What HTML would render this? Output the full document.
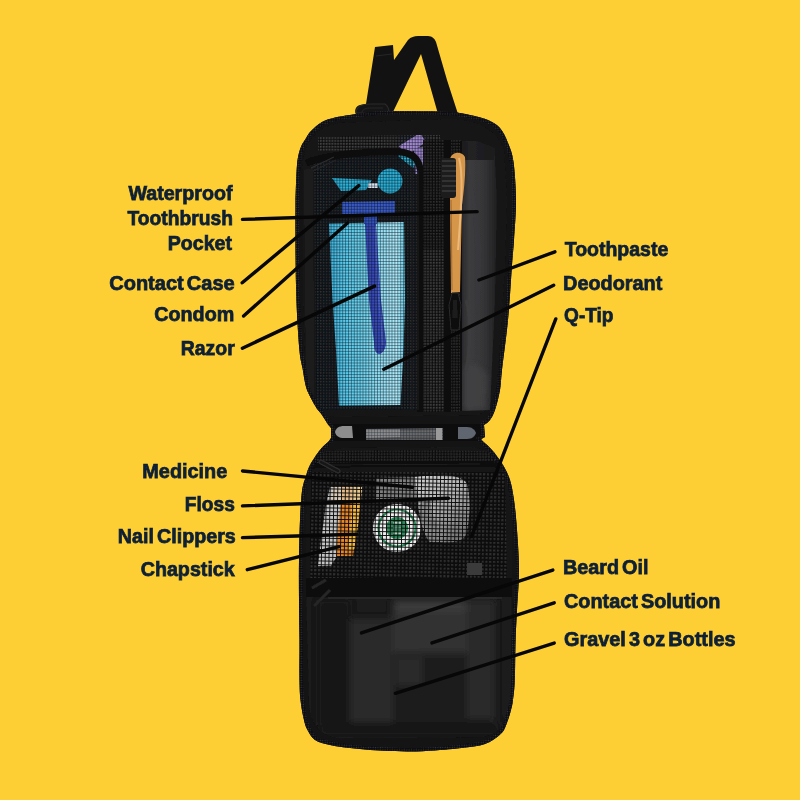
<!DOCTYPE html>
<html><head><meta charset="utf-8">
<style>
html,body{margin:0;padding:0;width:800px;height:800px;overflow:hidden;background:#FDCF35;}
svg{display:block;}
.t{font-family:"Liberation Sans",sans-serif;font-weight:bold;font-size:20.5px;fill:#112034;stroke:#112034;stroke-width:0.75px;word-spacing:-2.5px;}
</style></head><body>
<svg width="800" height="800" viewBox="0 0 800 800">
<defs><filter id="soft0" x="-2%" y="-20%" width="104%" height="140%"><feGaussianBlur stdDeviation="0.25"/></filter></defs>
<rect width="800" height="800" fill="#FDCF35"/>
<!-- handle -->
<path d="M366,104 L375,47 L393,45 L394,60 L408,40 C411,37 414,36 418,36 L428,36 C432,36 435,39 436,42 L447,80 L458,114 L438,114 L421,54 L392,114 L356,114 C354,110 356,106 360,105 Z" fill="#121212"/>
<path d="M356,113 C356,107 362,104 371,104 L385,104 C388,106 389,110 389,113 Z" fill="#151515" stroke="#2a2a2a" stroke-width="1.2"/>
<path d="M362,112 C363,109 366,108 371,108 L383,108" fill="none" stroke="#262626" stroke-width="1"/>
<path d="M376,56 L392,54" stroke="#262626" stroke-width="1"/>
<!-- silhouette -->
<path d="M295.5,200.0 C295.8,194.2 296.2,173.7 297.0,165.0 C297.8,156.3 299.1,152.3 300.5,148.0 C301.9,143.7 303.8,141.8 305.5,139.0 C307.2,136.2 308.2,133.8 311.0,131.0 C313.8,128.2 318.0,124.2 322.0,122.0 C326.0,119.8 330.3,118.7 335.0,117.5 C339.7,116.3 344.2,115.9 350.0,115.0 C355.8,114.1 361.7,112.7 370.0,112.0 C378.3,111.3 386.7,111.0 400.0,111.0 C413.3,111.0 438.3,111.3 450.0,112.0 C461.7,112.7 463.7,113.7 470.0,115.0 C476.3,116.3 483.0,117.8 488.0,120.0 C493.0,122.2 496.7,124.2 500.0,128.0 C503.3,131.8 505.8,137.3 508.0,143.0 C510.2,148.7 512.2,152.5 513.5,162.0 C514.8,171.5 515.9,187.0 516.0,200.0 C516.1,213.0 514.7,229.2 514.0,240.0 C513.3,250.8 513.0,251.7 512.0,265.0 C511.0,278.3 509.7,302.5 508.0,320.0 C506.3,337.5 503.3,358.3 502.0,370.0 C500.7,381.7 501.2,383.3 500.0,390.0 C498.8,396.7 496.7,405.0 495.0,410.0 C493.3,415.0 491.8,417.5 490.0,420.0 C488.2,422.5 485.0,424.2 484.0,425.0 L485,437 L481,439 L482.0,440.5 C483.7,442.1 488.5,445.9 492.0,450.0 C495.5,454.1 500.0,460.0 503.0,465.0 C506.0,470.0 508.2,474.2 510.0,480.0 C511.8,485.8 512.8,491.7 514.0,500.0 C515.2,508.3 516.2,518.3 517.0,530.0 C517.8,541.7 519.0,556.7 519.0,570.0 C519.0,583.3 517.6,598.3 517.0,610.0 C516.4,621.7 516.0,628.3 515.6,640.0 C515.2,651.7 515.2,670.0 514.8,680.0 C514.4,690.0 513.6,695.0 513.0,700.0 C512.4,705.0 511.8,706.7 511.0,710.0 C510.2,713.3 509.2,716.7 508.0,720.0 C506.8,723.3 505.4,727.5 504.0,730.0 C502.6,732.5 501.4,733.3 499.6,735.0 C497.8,736.7 495.4,738.5 493.0,740.0 C490.6,741.5 488.2,742.9 485.0,744.0 C481.8,745.1 478.4,745.8 473.7,746.5 C469.0,747.2 462.6,747.9 457.0,748.5 C451.4,749.1 446.8,749.5 440.0,750.0 C433.2,750.5 424.8,751.3 416.5,751.5 C408.2,751.7 397.8,751.2 390.0,751.0 C382.2,750.8 376.7,750.5 370.0,750.0 C363.3,749.5 356.7,748.8 350.0,748.0 C343.3,747.2 335.8,746.3 330.0,745.0 C324.2,743.7 318.8,742.5 315.0,740.0 C311.2,737.5 309.3,733.3 307.5,730.0 C305.7,726.7 305.2,725.0 304.0,720.0 C302.8,715.0 301.2,706.7 300.5,700.0 C299.8,693.3 299.7,690.0 299.5,680.0 C299.3,670.0 299.6,653.3 299.5,640.0 C299.4,626.7 299.1,613.3 299.0,600.0 C298.9,586.7 298.8,573.3 299.0,560.0 C299.2,546.7 299.5,531.5 300.0,520.0 C300.5,508.5 301.0,498.3 302.0,491.0 C303.0,483.7 304.7,480.3 306.0,476.0 C307.3,471.7 307.7,469.3 310.0,465.0 C312.3,460.7 316.8,454.0 320.0,450.0 C323.2,446.0 327.5,442.5 329.0,441.0 L331,438 L331,428 L328.0,424.5 C327.0,422.9 323.9,417.8 322.0,415.0 C320.1,412.2 318.2,410.5 316.5,408.0 C314.8,405.5 313.6,403.0 312.0,400.0 C310.4,397.0 308.2,393.3 307.0,390.0 C305.8,386.7 305.2,383.7 304.5,380.0 C303.8,376.3 303.4,373.0 302.5,368.0 C301.6,363.0 300.4,361.3 299.4,350.0 C298.4,338.7 297.0,316.7 296.4,300.0 C295.8,283.3 295.6,266.7 295.5,250.0 C295.4,233.3 295.5,208.3 295.5,200.0Z" fill="#141414"/>
<clipPath id="bagclip"><path d="M295.5,200.0 C295.8,194.2 296.2,173.7 297.0,165.0 C297.8,156.3 299.1,152.3 300.5,148.0 C301.9,143.7 303.8,141.8 305.5,139.0 C307.2,136.2 308.2,133.8 311.0,131.0 C313.8,128.2 318.0,124.2 322.0,122.0 C326.0,119.8 330.3,118.7 335.0,117.5 C339.7,116.3 344.2,115.9 350.0,115.0 C355.8,114.1 361.7,112.7 370.0,112.0 C378.3,111.3 386.7,111.0 400.0,111.0 C413.3,111.0 438.3,111.3 450.0,112.0 C461.7,112.7 463.7,113.7 470.0,115.0 C476.3,116.3 483.0,117.8 488.0,120.0 C493.0,122.2 496.7,124.2 500.0,128.0 C503.3,131.8 505.8,137.3 508.0,143.0 C510.2,148.7 512.2,152.5 513.5,162.0 C514.8,171.5 515.9,187.0 516.0,200.0 C516.1,213.0 514.7,229.2 514.0,240.0 C513.3,250.8 513.0,251.7 512.0,265.0 C511.0,278.3 509.7,302.5 508.0,320.0 C506.3,337.5 503.3,358.3 502.0,370.0 C500.7,381.7 501.2,383.3 500.0,390.0 C498.8,396.7 496.7,405.0 495.0,410.0 C493.3,415.0 491.8,417.5 490.0,420.0 C488.2,422.5 485.0,424.2 484.0,425.0 L485,437 L481,439 L482.0,440.5 C483.7,442.1 488.5,445.9 492.0,450.0 C495.5,454.1 500.0,460.0 503.0,465.0 C506.0,470.0 508.2,474.2 510.0,480.0 C511.8,485.8 512.8,491.7 514.0,500.0 C515.2,508.3 516.2,518.3 517.0,530.0 C517.8,541.7 519.0,556.7 519.0,570.0 C519.0,583.3 517.6,598.3 517.0,610.0 C516.4,621.7 516.0,628.3 515.6,640.0 C515.2,651.7 515.2,670.0 514.8,680.0 C514.4,690.0 513.6,695.0 513.0,700.0 C512.4,705.0 511.8,706.7 511.0,710.0 C510.2,713.3 509.2,716.7 508.0,720.0 C506.8,723.3 505.4,727.5 504.0,730.0 C502.6,732.5 501.4,733.3 499.6,735.0 C497.8,736.7 495.4,738.5 493.0,740.0 C490.6,741.5 488.2,742.9 485.0,744.0 C481.8,745.1 478.4,745.8 473.7,746.5 C469.0,747.2 462.6,747.9 457.0,748.5 C451.4,749.1 446.8,749.5 440.0,750.0 C433.2,750.5 424.8,751.3 416.5,751.5 C408.2,751.7 397.8,751.2 390.0,751.0 C382.2,750.8 376.7,750.5 370.0,750.0 C363.3,749.5 356.7,748.8 350.0,748.0 C343.3,747.2 335.8,746.3 330.0,745.0 C324.2,743.7 318.8,742.5 315.0,740.0 C311.2,737.5 309.3,733.3 307.5,730.0 C305.7,726.7 305.2,725.0 304.0,720.0 C302.8,715.0 301.2,706.7 300.5,700.0 C299.8,693.3 299.7,690.0 299.5,680.0 C299.3,670.0 299.6,653.3 299.5,640.0 C299.4,626.7 299.1,613.3 299.0,600.0 C298.9,586.7 298.8,573.3 299.0,560.0 C299.2,546.7 299.5,531.5 300.0,520.0 C300.5,508.5 301.0,498.3 302.0,491.0 C303.0,483.7 304.7,480.3 306.0,476.0 C307.3,471.7 307.7,469.3 310.0,465.0 C312.3,460.7 316.8,454.0 320.0,450.0 C323.2,446.0 327.5,442.5 329.0,441.0 L331,438 L331,428 L328.0,424.5 C327.0,422.9 323.9,417.8 322.0,415.0 C320.1,412.2 318.2,410.5 316.5,408.0 C314.8,405.5 313.6,403.0 312.0,400.0 C310.4,397.0 308.2,393.3 307.0,390.0 C305.8,386.7 305.2,383.7 304.5,380.0 C303.8,376.3 303.4,373.0 302.5,368.0 C301.6,363.0 300.4,361.3 299.4,350.0 C298.4,338.7 297.0,316.7 296.4,300.0 C295.8,283.3 295.6,266.7 295.5,250.0 C295.4,233.3 295.5,208.3 295.5,200.0Z"/></clipPath>
<g clip-path="url(#bagclip)">
<defs>
  <pattern id="grid" width="2.9" height="2.9" patternUnits="userSpaceOnUse">
    <path d="M0 0.3H2.9M0.3 0V2.9" stroke="#081424" stroke-width="0.62" stroke-opacity="0.88" fill="none"/>
  </pattern>
  <pattern id="gridk" width="2.9" height="2.9" patternUnits="userSpaceOnUse">
    <rect width="2.9" height="2.9" fill="#0b0b0b"/>
    <rect x="0.85" y="0.85" width="1.7" height="1.7" fill="#323232"/>
  </pattern>
  <pattern id="gridl" width="2.9" height="2.9" patternUnits="userSpaceOnUse">
    <rect width="2.9" height="2.9" fill="#0c0c0c"/>
    <rect x="0.8" y="0.8" width="1.8" height="1.8" fill="#464646"/>
  </pattern>
  <pattern id="grid4" width="3.8" height="3.8" patternUnits="userSpaceOnUse" patternTransform="rotate(1)">
    <path d="M0 0.45H3.8M0.45 0V3.8" stroke="#0a0a0a" stroke-width="0.95" fill="none"/>
  </pattern>
  <pattern id="gridk4" width="3.8" height="3.8" patternUnits="userSpaceOnUse" patternTransform="rotate(1)">
    <rect width="3.8" height="3.8" fill="#0c0c0c"/>
    <rect x="1" y="1" width="2.3" height="2.3" fill="#303030"/>
  </pattern>
  <pattern id="zip" width="2.4" height="2.4" patternUnits="userSpaceOnUse">
    <rect width="2.4" height="2.4" fill="#0c0c0e"/>
    <rect x="0.6" y="0.6" width="1.1" height="1.1" fill="#363a48"/>
  </pattern>
  <linearGradient id="pk" x1="0" y1="0" x2="1" y2="0">
    <stop offset="0" stop-color="#262628"/>
    <stop offset="0.25" stop-color="#3c3c3e"/>
    <stop offset="0.6" stop-color="#363638"/>
    <stop offset="0.85" stop-color="#29292b"/>
    <stop offset="1" stop-color="#1e1e1f"/>
  </linearGradient>
  <linearGradient id="teal" x1="0" y1="0" x2="1" y2="0">
    <stop offset="0" stop-color="#40b4da"/>
    <stop offset="0.2" stop-color="#56c8e8"/>
    <stop offset="0.45" stop-color="#70d4ec"/>
    <stop offset="0.7" stop-color="#98e2f4"/>
    <stop offset="0.9" stop-color="#b0ecf8"/>
    <stop offset="1" stop-color="#64cce6"/>
  </linearGradient>
  <linearGradient id="med" x1="0" y1="0" x2="0.6" y2="1">
    <stop offset="0" stop-color="#d0d0d0"/>
    <stop offset="0.5" stop-color="#b4b4b4"/>
    <stop offset="1" stop-color="#7a7a7a"/>
  </linearGradient>
  <filter id="soft" x="-5%" y="-5%" width="110%" height="110%">
    <feGaussianBlur stdDeviation="0.45"/>
  </filter>
  <filter id="blur3" x="-20%" y="-20%" width="140%" height="140%">
    <feGaussianBlur stdDeviation="2.5"/>
  </filter>
  <filter id="blur4" x="-20%" y="-20%" width="140%" height="140%">
    <feGaussianBlur stdDeviation="3.5"/>
  </filter>
  <clipPath id="lpclip"><path d="M306,592 L512,592 L511,700 C509,722 500,733 482,737 L340,738 C320,736 311,725 309,705 Z"/></clipPath>
  <filter id="soft2" x="-5%" y="-5%" width="110%" height="110%">
    <feGaussianBlur stdDeviation="0.9"/>
  </filter>
</defs>

<g filter="url(#soft)">
<!-- ===== TOP PANEL ===== -->
<!-- lining -->
<path d="M303,165 C305,140 318,126 340,123 L450,119 C478,120 497,130 504,150 L507,200 L505,265 L498,372 C496,395 490,410 478,415 L335,417 C318,415 310,400 306,380 L303,300 Z" fill="#161616"/>
<!-- left fold -->
<path d="M304,170 L313,168 L314,405 C310,400 307,390 306,375 Z" fill="#1f1f1f"/>
<!-- top mesh strip -->
<path d="M318,137 C340,136 380,135 440,135 L441,150 L318,151 Z" fill="url(#gridl)"/>
<!-- pocket interior (mesh over dark lining) -->
<path d="M314,162 C330,156 370,154 402,155 C414,156 419,162 419,172 L419,410 L316,410 Z" fill="url(#gridk)"/>
<!-- teal towel -->
<path d="M329,223.5 L404,222 L405,300 L403.5,350 L400.5,405 L339,405.5 L336,350 L332.5,300 Z" fill="url(#teal)"/>
<!-- contact case -->
<path d="M332,178 L372,180 L366,190 L341,191 Z" fill="#2cb2d6"/>
<circle cx="390" cy="181" r="12.5" fill="#2ab0d4"/>
<rect x="368" y="183" width="10" height="5" fill="#d8e4ee"/>
<!-- razor -->
<path d="M342,202 L395,201 L395,213 L342,214 Z" fill="#3a5ac6"/>
<path d="M364,213 L377,213 L377,224 L364,224 Z" fill="#3452c0"/>
<path d="M365,224 L376,224 L381,300 L386,342 C386,350 382,354 379,354 C375,353 374,349 374,342 L369,300 Z" fill="#3848b8"/>
<path d="M375,226 L379,300 L383,345" stroke="#4c64d0" stroke-width="2" fill="none"/>
<!-- purple / cyan small items -->
<path d="M399,146 L420,133 L426,142 L406,156 Z" fill="#a488cc"/>
<path d="M414,148 L427,147 L427,174 L415,174 Z" fill="#9c80c8"/>
<path d="M398,156 L402,152 L416,163 L413,168 Z" fill="#30b4d0"/>
<!-- grid over colored items -->
<path d="M314,162 C330,156 370,154 402,155 C414,156 419,162 419,172 L419,410 L316,410 Z" fill="url(#grid)"/>
<rect x="398" y="131" width="30" height="43" fill="url(#grid)"/>
<!-- pocket binding -->
<path d="M306,163 C328,154 370,151 400,152 C415,153 420,161 421,174 L421,412" stroke="#0d0d0d" stroke-width="7" fill="none"/>
<!-- left zipper pull -->
<path d="M311,168 L334,157" stroke="#2e2e2e" stroke-width="1.2"/>
<path d="M313,171 L336,160" stroke="#262626" stroke-width="1.2"/>
<!-- divider / mesh column -->
<rect x="423" y="140" width="21" height="272" fill="url(#gridk)"/>
<rect x="423" y="250" width="21" height="160" fill="url(#gridl)" opacity="0.8"/>
<rect x="444" y="140" width="7" height="272" fill="#0c0c0c"/>
<rect x="451" y="140" width="10" height="272" fill="url(#gridk)"/>
<path d="M412,160 L412,410 M418,170 L418,410" stroke="#1e1e1e" stroke-width="1"/>
<!-- right pocket -->
<path d="M460,141 L494,142 L497,200 L495,300 L490,410 L460,411 Z" fill="url(#pk)"/>
<path d="M468,170 C478,200 484,240 480,300 L475,310 C477,250 474,200 466,172 Z" fill="#3a3a3d" opacity="0.5"/>
<path d="M461,141 L494,142 L494,160 L461,160 Z" fill="#161617" opacity="0.7"/>
<path d="M463,370 C470,360 480,365 488,375 L486,408 L463,408 Z" fill="#454547" opacity="0.6" filter="url(#blur3)"/>
<path d="M466,300 C472,320 470,350 466,370" stroke="#3e3e40" stroke-width="3" fill="none" opacity="0.7"/>
<path d="M461,141 L461,411" stroke="#0a0a0a" stroke-width="2"/>
<!-- toothbrush -->
<path d="M450,162 C449,152 461,150 465,157 C466,172 464,190 462,205 L460,292 L451,293 L450,205 Z" fill="#d6964a"/>
<path d="M459,158 C463,172 462,200 458,250" stroke="#ecb878" stroke-width="2" fill="none"/>
<path d="M451,200 L452,290" stroke="#a86e30" stroke-width="1.2" fill="none"/>
<rect x="441" y="158" width="15" height="40" rx="3" fill="#1c1c1c"/>
<path d="M442,161H456M442,166H456M442,171H456M442,176H456M442,181H456M442,186H456M442,191H456" stroke="#383838" stroke-width="1.3"/>
<!-- zipper pull -->
<path d="M452,293 L458,293 L461,305 L459,330 L451,330 L449,305 Z" fill="#0a0a0a" stroke="#2c2c2c" stroke-width="1"/>
<path d="M453,300 L457,300 L458,318 L452,318 Z" fill="#1a1a1a"/>
<!-- top band -->
<path d="M302,168 C304,142 318,127 340,123 L450,119 C478,120 497,130 504,150 L504,152 C480,140 460,136 440,135 C390,135 340,136 318,137 C310,142 306,155 304,170 Z" fill="#151515"/>

<!-- ===== HINGE ===== -->
<path d="M331,424 L484,424 L484,441 L331,441 Z" fill="#111"/>
<path d="M366,429 L443,428 L443,440 L366,440 Z" fill="#5e5e5e"/>
<path d="M366,429 L400,429 L400,437 L366,438 Z" fill="#8c8c8c"/>
<path d="M400,431 L440,430 L440,436 L400,437 Z" fill="#6a6a6a"/>
<rect x="366" y="428" width="78" height="12" fill="url(#grid)" opacity="0.7"/>
<path d="M436,428 L442,428 L442,440 L436,440 Z" fill="#9a9a9a"/>
<path d="M335,432 C336,428 339,426 344,426 L352,426 L353,438 L344,438 C339,438 336,436 335,432 Z" fill="#8e8e8e"/>
<path d="M458,427 L467,427 C472,427 475,430 476,433 C475,436 472,439 467,439 L458,439 Z" fill="#5e6670"/>
<!-- ===== BOTTOM PANEL ===== -->
<path d="M308,478 C314,460 328,450 345,448 L470,447 C490,449 502,460 507,478 L512,520 L512,600 L306,600 L306,520 Z" fill="#171717"/>
<!-- mesh pocket -->
<path d="M311,472 L505,472 L507,578 L310,578 Z" fill="url(#gridk4)"/>
<!-- items -->
<path d="M330,487 L344,487 L337,556 L331,566 L318,566 L321,540 L326,505 Z" fill="#c4c4c4"/>
<path d="M342,487 L362,487 L358,525 L353,556 L336,556 L339,520 Z" fill="#e8862a"/>
<path d="M352,487 L362,487 L358,525 L354,550 L348,550 L351,520 Z" fill="#f2b840"/>
<path d="M333,487 L362,487 L361,500 L331,500 Z" fill="#e4d0b0" opacity="0.7"/>
<path d="M376,478 L418,477 L418,500 L376,501 Z" fill="#7e7e7e"/>
<path d="M415,477 C440,474 462,474 467,484 C471,498 470,520 466,535 C462,542 452,543 440,542 L430,542 C424,536 420,520 418,500 Z" fill="url(#med)"/>
<path d="M418,505 C420,520 424,536 430,542 L445,542 C438,530 432,515 430,500 Z" fill="#8a8a8a"/>
<ellipse cx="397" cy="528" rx="24" ry="24" fill="#efefef"/>
<circle cx="397" cy="528" r="18.5" fill="none" stroke="#2a8a5a" stroke-width="2.2"/>
<circle cx="397" cy="528" r="11" fill="#2e8c5c"/>
<path d="M393,523 L401,523 M393,528 L401,528 M393,533 L401,533" stroke="#cfe8d8" stroke-width="1.5"/>
<path d="M311,472 L505,472 L507,578 L310,578 Z" fill="url(#grid4)"/>
<!-- pocket zipper -->
<path d="M318,452 C340,450 460,449 495,452 L497,463 L316,464 Z" fill="url(#gridk)"/>
<path d="M312,466 C360,464 450,463 500,465" stroke="#0a0a0a" stroke-width="5" fill="none"/>
<path d="M330,465 L480,464" stroke="#262626" stroke-width="0.8"/>
<path d="M321,462 L338,471" stroke="#2e2e2e" stroke-width="5" stroke-linecap="round"/>
<path d="M321,462 L338,471" stroke="#161616" stroke-width="2.5" stroke-linecap="round"/>
<rect x="467" y="563" width="15" height="12" fill="#3a3a3a"/>
<!-- lower pocket -->
<path d="M306,592 L512,592 L511,700 C509,722 500,733 482,737 L340,738 C320,736 311,725 309,705 Z" fill="#1a1a1a"/>
<g filter="url(#blur4)" clip-path="url(#lpclip)">
<rect x="318" y="600" width="32" height="125" fill="#121212"/>
<rect x="350" y="619" width="43" height="103" fill="#292929"/>
<rect x="393" y="600" width="74" height="53" fill="#303030"/>
<rect x="395" y="600" width="70" height="12" fill="#3a3a3a"/>
<rect x="393" y="653" width="74" height="69" fill="#1d1d1d"/>
<rect x="396" y="657" width="26" height="28" fill="#2c2c2c"/>
<rect x="467" y="600" width="28" height="120" fill="#292929"/>
<rect x="320" y="722" width="180" height="14" fill="#151515"/>
</g>
<path d="M306,578 L512,578 L512,597 L306,597 Z" fill="#101010"/>
<path d="M328,598 L502,598" stroke="#2e2e2e" stroke-width="1.5"/>
<path d="M312,588 L326,580 M314,606 L330,590" stroke="#262626" stroke-width="3"/>
</g>

<path d="M295.5,200.0 C295.8,194.2 296.2,173.7 297.0,165.0 C297.8,156.3 299.1,152.3 300.5,148.0 C301.9,143.7 303.8,141.8 305.5,139.0 C307.2,136.2 308.2,133.8 311.0,131.0 C313.8,128.2 318.0,124.2 322.0,122.0 C326.0,119.8 330.3,118.7 335.0,117.5 C339.7,116.3 344.2,115.9 350.0,115.0 C355.8,114.1 361.7,112.7 370.0,112.0 C378.3,111.3 386.7,111.0 400.0,111.0 C413.3,111.0 438.3,111.3 450.0,112.0 C461.7,112.7 463.7,113.7 470.0,115.0 C476.3,116.3 483.0,117.8 488.0,120.0 C493.0,122.2 496.7,124.2 500.0,128.0 C503.3,131.8 505.8,137.3 508.0,143.0 C510.2,148.7 512.2,152.5 513.5,162.0 C514.8,171.5 515.9,187.0 516.0,200.0 C516.1,213.0 514.7,229.2 514.0,240.0 C513.3,250.8 513.0,251.7 512.0,265.0 C511.0,278.3 509.7,302.5 508.0,320.0 C506.3,337.5 503.3,358.3 502.0,370.0 C500.7,381.7 501.2,383.3 500.0,390.0 C498.8,396.7 496.7,405.0 495.0,410.0 C493.3,415.0 491.8,417.5 490.0,420.0 C488.2,422.5 485.0,424.2 484.0,425.0 L485,437 L481,439 L482.0,440.5 C483.7,442.1 488.5,445.9 492.0,450.0 C495.5,454.1 500.0,460.0 503.0,465.0 C506.0,470.0 508.2,474.2 510.0,480.0 C511.8,485.8 512.8,491.7 514.0,500.0 C515.2,508.3 516.2,518.3 517.0,530.0 C517.8,541.7 519.0,556.7 519.0,570.0 C519.0,583.3 517.6,598.3 517.0,610.0 C516.4,621.7 516.0,628.3 515.6,640.0 C515.2,651.7 515.2,670.0 514.8,680.0 C514.4,690.0 513.6,695.0 513.0,700.0 C512.4,705.0 511.8,706.7 511.0,710.0 C510.2,713.3 509.2,716.7 508.0,720.0 C506.8,723.3 505.4,727.5 504.0,730.0 C502.6,732.5 501.4,733.3 499.6,735.0 C497.8,736.7 495.4,738.5 493.0,740.0 C490.6,741.5 488.2,742.9 485.0,744.0 C481.8,745.1 478.4,745.8 473.7,746.5 C469.0,747.2 462.6,747.9 457.0,748.5 C451.4,749.1 446.8,749.5 440.0,750.0 C433.2,750.5 424.8,751.3 416.5,751.5 C408.2,751.7 397.8,751.2 390.0,751.0 C382.2,750.8 376.7,750.5 370.0,750.0 C363.3,749.5 356.7,748.8 350.0,748.0 C343.3,747.2 335.8,746.3 330.0,745.0 C324.2,743.7 318.8,742.5 315.0,740.0 C311.2,737.5 309.3,733.3 307.5,730.0 C305.7,726.7 305.2,725.0 304.0,720.0 C302.8,715.0 301.2,706.7 300.5,700.0 C299.8,693.3 299.7,690.0 299.5,680.0 C299.3,670.0 299.6,653.3 299.5,640.0 C299.4,626.7 299.1,613.3 299.0,600.0 C298.9,586.7 298.8,573.3 299.0,560.0 C299.2,546.7 299.5,531.5 300.0,520.0 C300.5,508.5 301.0,498.3 302.0,491.0 C303.0,483.7 304.7,480.3 306.0,476.0 C307.3,471.7 307.7,469.3 310.0,465.0 C312.3,460.7 316.8,454.0 320.0,450.0 C323.2,446.0 327.5,442.5 329.0,441.0 L331,438 L331,428 L328.0,424.5 C327.0,422.9 323.9,417.8 322.0,415.0 C320.1,412.2 318.2,410.5 316.5,408.0 C314.8,405.5 313.6,403.0 312.0,400.0 C310.4,397.0 308.2,393.3 307.0,390.0 C305.8,386.7 305.2,383.7 304.5,380.0 C303.8,376.3 303.4,373.0 302.5,368.0 C301.6,363.0 300.4,361.3 299.4,350.0 C298.4,338.7 297.0,316.7 296.4,300.0 C295.8,283.3 295.6,266.7 295.5,250.0 C295.4,233.3 295.5,208.3 295.5,200.0Z" fill="none" stroke="url(#zip)" stroke-width="7" filter="url(#soft)"/>
</g>
<g stroke="#070707" stroke-width="3.4" stroke-linecap="round" fill="none">
<line x1="242.5" y1="219.4" x2="477.1" y2="211.6"/>
<line x1="242.2" y1="282.8" x2="358.8" y2="185.6"/>
<line x1="243.6" y1="316.0" x2="347.5" y2="223.0"/>
<line x1="242.4" y1="348.2" x2="374.6" y2="286.1"/>
<line x1="554.9" y1="251.8" x2="478.9" y2="280.0"/>
<line x1="553.7" y1="285.2" x2="383.8" y2="369.3"/>
<line x1="555.8" y1="318.9" x2="471.5" y2="536.6"/>
<line x1="242.5" y1="471.0" x2="412.5" y2="487.2"/>
<line x1="242.5" y1="505.9" x2="448.5" y2="498.3"/>
<line x1="242.5" y1="537.6" x2="356.5" y2="534.2"/>
<line x1="247.3" y1="569.7" x2="339.2" y2="546.7"/>
<line x1="552.8" y1="570.1" x2="361.5" y2="632.9"/>
<line x1="554.2" y1="602.8" x2="432.0" y2="642.9"/>
<line x1="554.2" y1="643.1" x2="395.4" y2="693.3"/>
</g>
<g class="t" filter="url(#soft0)">
<text x="128.40" y="200.25" textLength="104.10" lengthAdjust="spacingAndGlyphs">Waterproof</text>
<text x="127.50" y="225.00" textLength="105.40" lengthAdjust="spacingAndGlyphs">Toothbrush</text>
<text x="167.75" y="249.75" textLength="64.25" lengthAdjust="spacingAndGlyphs">Pocket</text>
<text x="109.20" y="289.50" textLength="125.55" lengthAdjust="spacingAndGlyphs">Contact Case</text>
<text x="154.25" y="321.00" textLength="80.05" lengthAdjust="spacingAndGlyphs">Condom</text>
<text x="180.80" y="355.10" textLength="53.95" lengthAdjust="spacingAndGlyphs">Razor</text>
<text x="142.30" y="478.10" textLength="85.00" lengthAdjust="spacingAndGlyphs">Medicine</text>
<text x="184.80" y="511.35" textLength="50.00" lengthAdjust="spacingAndGlyphs">Floss</text>
<text x="117.80" y="543.40" textLength="117.95" lengthAdjust="spacingAndGlyphs">Nail Clippers</text>
<text x="140.70" y="575.75" textLength="94.05" lengthAdjust="spacingAndGlyphs">Chapstick</text>
<text x="564.75" y="256.25" textLength="103.50" lengthAdjust="spacingAndGlyphs">Toothpaste</text>
<text x="563.10" y="290.00" textLength="99.15" lengthAdjust="spacingAndGlyphs">Deodorant</text>
<text x="564.10" y="322.25" textLength="49.40" lengthAdjust="spacingAndGlyphs">Q-Tip</text>
<text x="563.00" y="573.75" textLength="85.40" lengthAdjust="spacingAndGlyphs">Beard Oil</text>
<text x="564.00" y="608.20" textLength="156.30" lengthAdjust="spacingAndGlyphs">Contact Solution</text>
<text x="564.00" y="645.50" textLength="171.50" lengthAdjust="spacingAndGlyphs">Gravel 3 oz Bottles</text>
</g>
</svg>
</body></html>
